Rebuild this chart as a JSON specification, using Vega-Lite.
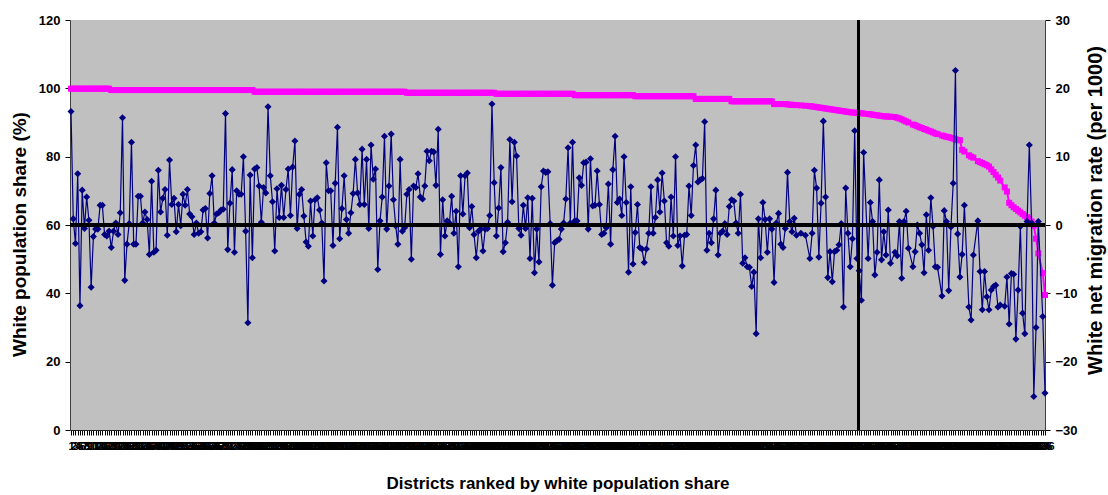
{
"$schema":"https://vega.github.io/schema/vega-lite/v6.json",
"width":975,"height":410,
"autosize":"none",
"padding":{"left":70,"top":20,"right":63,"bottom":65},
"background":"white",
"config":{"view":{"fill":"#C0C0C0","stroke":null},"font":"Liberation Sans"},
"data":{"values":[
{"rank":1,"share":99.9,"rate":16.6},{"rank":2,"share":99.9,"rate":0.9},{"rank":3,"share":99.9,"rate":-2.7},{"rank":4,"share":99.9,"rate":7.5},{"rank":5,"share":99.9,"rate":-11.8},{"rank":6,"share":99.9,"rate":5.1},{"rank":7,"share":99.9,"rate":-0.5},{"rank":8,"share":99.9,"rate":4.1},{"rank":9,"share":99.9,"rate":0.7},{"rank":10,"share":99.9,"rate":-9.1},{"rank":11,"share":99.9,"rate":-1.7},{"rank":12,"share":99.9,"rate":-0.6},{"rank":13,"share":99.9,"rate":-0.6},{"rank":14,"share":99.9,"rate":2.9},{"rank":15,"share":99.9,"rate":2.9},{"rank":16,"share":99.9,"rate":-1.4},{"rank":17,"share":99.9,"rate":-1.6},{"rank":18,"share":99.9,"rate":-0.9},
{"rank":19,"share":99.5,"rate":-3.3},{"rank":20,"share":99.5,"rate":-0.9},{"rank":21,"share":99.5,"rate":0.3},{"rank":22,"share":99.5,"rate":-1.4},{"rank":23,"share":99.5,"rate":1.8},{"rank":24,"share":99.5,"rate":15.7},{"rank":25,"share":99.5,"rate":-8.1},{"rank":26,"share":99.5,"rate":-2.8},{"rank":27,"share":99.5,"rate":0.2},{"rank":28,"share":99.5,"rate":12.1},{"rank":29,"share":99.5,"rate":-2.8},{"rank":30,"share":99.5,"rate":-2.8},{"rank":31,"share":99.5,"rate":4.2},{"rank":32,"share":99.5,"rate":4.2},{"rank":33,"share":99.5,"rate":0.3},{"rank":34,"share":99.5,"rate":1.9},{"rank":35,"share":99.5,"rate":0.8},{"rank":36,"share":99.5,"rate":-4.3},{"rank":37,"share":99.5,"rate":6.4},{"rank":38,"share":99.5,"rate":-4.0},{"rank":39,"share":99.5,"rate":-3.7},{"rank":40,"share":99.5,"rate":8.0},{"rank":41,"share":99.5,"rate":1.9},{"rank":42,"share":99.5,"rate":3.9},{"rank":43,"share":99.5,"rate":5.2},{"rank":44,"share":99.5,"rate":-1.5},{"rank":45,"share":99.5,"rate":9.5},{"rank":46,"share":99.5,"rate":3.0},{"rank":47,"share":99.5,"rate":3.9},{"rank":48,"share":99.5,"rate":-1.0},{"rank":49,"share":99.5,"rate":3.0},{"rank":50,"share":99.5,"rate":-0.1},{"rank":51,"share":99.5,"rate":4.5},
{"rank":52,"share":99.5,"rate":2.9},{"rank":53,"share":99.5,"rate":5.2},{"rank":54,"share":99.5,"rate":1.6},{"rank":55,"share":99.5,"rate":1.2},{"rank":56,"share":99.5,"rate":-1.4},{"rank":57,"share":99.5,"rate":0.3},{"rank":58,"share":99.5,"rate":-1.2},{"rank":59,"share":99.5,"rate":-1.0},{"rank":60,"share":99.5,"rate":2.2},{"rank":61,"share":99.5,"rate":2.4},{"rank":62,"share":99.5,"rate":-1.9},{"rank":63,"share":99.5,"rate":4.6},{"rank":64,"share":99.5,"rate":7.2},{"rank":65,"share":99.5,"rate":0.3},{"rank":66,"share":99.5,"rate":1.6},{"rank":67,"share":99.5,"rate":1.8},{"rank":68,"share":99.5,"rate":2.2},{"rank":69,"share":99.5,"rate":2.3},{"rank":70,"share":99.5,"rate":16.3},{"rank":71,"share":99.5,"rate":-3.6},{"rank":72,"share":99.5,"rate":3.2},{"rank":73,"share":99.5,"rate":8.1},{"rank":74,"share":99.5,"rate":-4.0},{"rank":75,"share":99.5,"rate":5.0},{"rank":76,"share":99.5,"rate":4.5},{"rank":77,"share":99.5,"rate":4.5},{"rank":78,"share":99.5,"rate":10.0},{"rank":79,"share":99.5,"rate":-0.9},{"rank":80,"share":99.5,"rate":-14.3},{"rank":81,"share":99.5,"rate":7.3},{"rank":82,"share":99.5,"rate":-4.8},
{"rank":83,"share":99.0,"rate":8.2},{"rank":84,"share":99.0,"rate":8.4},{"rank":85,"share":99.0,"rate":5.7},{"rank":86,"share":99.0,"rate":0.4},{"rank":87,"share":99.0,"rate":5.5},{"rank":88,"share":99.0,"rate":4.7},{"rank":89,"share":99.0,"rate":17.3},{"rank":90,"share":99.0,"rate":7.2},{"rank":91,"share":99.0,"rate":3.4},{"rank":92,"share":99.0,"rate":-3.8},{"rank":93,"share":99.0,"rate":5.3},{"rank":94,"share":99.0,"rate":1.1},{"rank":95,"share":99.0,"rate":5.8},{"rank":96,"share":99.0,"rate":1.1},{"rank":97,"share":99.0,"rate":5.2},{"rank":98,"share":99.0,"rate":8.2},{"rank":99,"share":99.0,"rate":1.4},{"rank":100,"share":99.0,"rate":8.5},{"rank":101,"share":99.0,"rate":12.3},{"rank":102,"share":99.0,"rate":-0.5},{"rank":103,"share":99.0,"rate":4.5},{"rank":104,"share":99.0,"rate":5.2},{"rank":105,"share":99.0,"rate":1.3},
{"rank":106,"share":99.0,"rate":-2.5},{"rank":107,"share":99.0,"rate":-3.1},{"rank":108,"share":99.0,"rate":3.5},{"rank":109,"share":99.0,"rate":-1.6},{"rank":110,"share":99.0,"rate":3.7},{"rank":111,"share":99.0,"rate":4.0},{"rank":112,"share":99.0,"rate":2.2},{"rank":113,"share":99.0,"rate":0.3},{"rank":114,"share":99.0,"rate":-8.2},{"rank":115,"share":99.0,"rate":9.1},{"rank":116,"share":99.0,"rate":5.0},{"rank":117,"share":99.0,"rate":5.0},{"rank":118,"share":99.0,"rate":-3.0},{"rank":119,"share":99.0,"rate":6.1},{"rank":120,"share":99.0,"rate":14.3},{"rank":121,"share":99.0,"rate":-2.0},{"rank":122,"share":99.0,"rate":2.4},{"rank":123,"share":99.0,"rate":7.2},{"rank":124,"share":99.0,"rate":0.8},{"rank":125,"share":99.0,"rate":-1.2},{"rank":126,"share":99.0,"rate":1.8},{"rank":127,"share":99.0,"rate":4.6},{"rank":128,"share":99.0,"rate":9.6},{"rank":129,"share":99.0,"rate":4.7},{"rank":130,"share":99.0,"rate":3.0},{"rank":131,"share":99.0,"rate":11.1},{"rank":132,"share":99.0,"rate":3.0},{"rank":133,"share":99.0,"rate":9.6},{"rank":134,"share":99.0,"rate":-0.5},{"rank":135,"share":99.0,"rate":11.7},{"rank":136,"share":99.0,"rate":6.7},{"rank":137,"share":99.0,"rate":8.2},{"rank":138,"share":99.0,"rate":-6.5},{"rank":139,"share":99.0,"rate":0.6},{"rank":140,"share":99.0,"rate":4.1},{"rank":141,"share":99.0,"rate":13.0},{"rank":142,"share":99.0,"rate":-0.6},{"rank":143,"share":99.0,"rate":5.7},{"rank":144,"share":99.0,"rate":13.3},{"rank":145,"share":99.0,"rate":3.7},{"rank":146,"share":99.0,"rate":-0.1},{"rank":147,"share":99.0,"rate":-2.8},{"rank":148,"share":99.0,"rate":9.6},{"rank":149,"share":99.0,"rate":-0.9},{"rank":150,"share":99.0,"rate":-0.4},
{"rank":151,"share":98.7,"rate":4.5},{"rank":152,"share":98.7,"rate":5.2},{"rank":153,"share":98.7,"rate":-5.0},{"rank":154,"share":98.7,"rate":5.7},{"rank":155,"share":98.7,"rate":5.5},{"rank":156,"share":98.7,"rate":7.5},{"rank":157,"share":98.7,"rate":4.1},
{"rank":158,"share":98.7,"rate":3.8},{"rank":159,"share":98.7,"rate":5.7},{"rank":160,"share":98.7,"rate":10.8},{"rank":161,"share":98.7,"rate":9.4},{"rank":162,"share":98.7,"rate":10.8},{"rank":163,"share":98.7,"rate":10.7},{"rank":164,"share":98.7,"rate":5.8},{"rank":165,"share":98.7,"rate":14.0},{"rank":166,"share":98.7,"rate":-4.3},{"rank":167,"share":98.7,"rate":3.7},{"rank":168,"share":98.7,"rate":-1.6},{"rank":169,"share":98.7,"rate":0.6},{"rank":170,"share":98.7,"rate":0.3},{"rank":171,"share":98.7,"rate":4.2},{"rank":172,"share":98.7,"rate":-1.2},{"rank":173,"share":98.7,"rate":2.0},{"rank":174,"share":98.7,"rate":-6.1},{"rank":175,"share":98.7,"rate":7.2},{"rank":176,"share":98.7,"rate":1.6},{"rank":177,"share":98.7,"rate":7.2},{"rank":178,"share":98.7,"rate":7.6},{"rank":179,"share":98.7,"rate":-0.4},{"rank":180,"share":98.7,"rate":2.7},{"rank":181,"share":98.7,"rate":-1.4},{"rank":182,"share":98.7,"rate":-4.8},{"rank":183,"share":98.7,"rate":-0.9},{"rank":184,"share":98.7,"rate":-0.6},{"rank":185,"share":98.7,"rate":-3.8},{"rank":186,"share":98.7,"rate":-0.6},{"rank":187,"share":98.7,"rate":-0.5},{"rank":188,"share":98.7,"rate":1.4},{"rank":189,"share":98.7,"rate":17.7},{"rank":190,"share":98.7,"rate":6.2},
{"rank":191,"share":98.4,"rate":-1.6},{"rank":192,"share":98.4,"rate":2.5},{"rank":193,"share":98.4,"rate":8.4},{"rank":194,"share":98.4,"rate":-3.9},{"rank":195,"share":98.4,"rate":-2.6},{"rank":196,"share":98.4,"rate":0.4},{"rank":197,"share":98.4,"rate":12.5},{"rank":198,"share":98.4,"rate":3.4},{"rank":199,"share":98.4,"rate":12.1},{"rank":200,"share":98.4,"rate":10.1},{"rank":201,"share":98.4,"rate":-0.5},{"rank":202,"share":98.4,"rate":-1.5},{"rank":203,"share":98.4,"rate":2.9},{"rank":204,"share":98.4,"rate":-0.5},{"rank":205,"share":98.4,"rate":4.0},{"rank":206,"share":98.4,"rate":-4.9},{"rank":207,"share":98.4,"rate":3.9},{"rank":208,"share":98.4,"rate":-7.0},{"rank":209,"share":98.4,"rate":-0.6},{"rank":210,"share":98.4,"rate":-5.4},{"rank":211,"share":98.4,"rate":5.6},
{"rank":212,"share":98.4,"rate":7.9},{"rank":213,"share":98.4,"rate":7.7},{"rank":214,"share":98.4,"rate":7.8},{"rank":215,"share":98.4,"rate":0.2},{"rank":216,"share":98.4,"rate":-8.8},{"rank":217,"share":98.4,"rate":-2.6},{"rank":218,"share":98.4,"rate":-2.3},{"rank":219,"share":98.4,"rate":-2.1},{"rank":220,"share":98.4,"rate":-0.6},{"rank":221,"share":98.4,"rate":0.3},{"rank":222,"share":98.4,"rate":3.8},{"rank":223,"share":98.4,"rate":11.3},{"rank":224,"share":98.4,"rate":0.3},{"rank":225,"share":98.4,"rate":12.1},
{"rank":226,"share":98.0,"rate":0.6},{"rank":227,"share":98.0,"rate":0.6},{"rank":228,"share":98.0,"rate":6.9},{"rank":229,"share":98.0,"rate":5.8},{"rank":230,"share":98.0,"rate":9.1},{"rank":231,"share":98.0,"rate":9.2},{"rank":232,"share":98.0,"rate":-0.6},{"rank":233,"share":98.0,"rate":9.7},{"rank":234,"share":98.0,"rate":2.8},{"rank":235,"share":98.0,"rate":2.9},{"rank":236,"share":98.0,"rate":7.9},{"rank":237,"share":98.0,"rate":3.0},{"rank":238,"share":98.0,"rate":-1.4},{"rank":239,"share":98.0,"rate":-1.2},{"rank":240,"share":98.0,"rate":-0.4},{"rank":241,"share":98.0,"rate":6.0},{"rank":242,"share":98.0,"rate":-2.8},{"rank":243,"share":98.0,"rate":8.1},{"rank":244,"share":98.0,"rate":13.0},{"rank":245,"share":98.0,"rate":3.3},{"rank":246,"share":98.0,"rate":3.8},{"rank":247,"share":98.0,"rate":1.4},{"rank":248,"share":98.0,"rate":10.0},{"rank":249,"share":98.0,"rate":3.3},{"rank":250,"share":98.0,"rate":-6.9},{"rank":251,"share":98.0,"rate":5.6},{"rank":252,"share":98.0,"rate":-5.7},
{"rank":253,"share":97.7,"rate":-1.1},{"rank":254,"share":97.7,"rate":3.0},{"rank":255,"share":97.7,"rate":-3.3},{"rank":256,"share":97.7,"rate":-3.5},{"rank":257,"share":97.7,"rate":-5.5},{"rank":258,"share":97.7,"rate":-3.5},{"rank":259,"share":97.7,"rate":-1.2},{"rank":260,"share":97.7,"rate":5.6},{"rank":261,"share":97.7,"rate":-1.2},{"rank":262,"share":97.7,"rate":1.1},{"rank":263,"share":97.7,"rate":6.6},{"rank":264,"share":97.7,"rate":1.9},{"rank":265,"share":97.7,"rate":7.6},{"rank":266,"share":97.7,"rate":3.5},
{"rank":267,"share":97.7,"rate":-2.6},{"rank":268,"share":97.7,"rate":-3.1},{"rank":269,"share":97.7,"rate":4.1},{"rank":270,"share":97.7,"rate":-1.6},{"rank":271,"share":97.7,"rate":10.0},{"rank":272,"share":97.7,"rate":-3.0},{"rank":273,"share":97.7,"rate":-1.6},{"rank":274,"share":97.7,"rate":-6.0},{"rank":275,"share":97.7,"rate":-1.5},{"rank":276,"share":97.7,"rate":-1.4},{"rank":277,"share":97.7,"rate":5.7},{"rank":278,"share":97.7,"rate":1.4},{"rank":279,"share":97.7,"rate":8.7},
{"rank":280,"share":96.9,"rate":11.7},{"rank":281,"share":96.9,"rate":6.3},{"rank":282,"share":96.9,"rate":6.6},{"rank":283,"share":96.9,"rate":6.8},{"rank":284,"share":96.9,"rate":15.1},{"rank":285,"share":96.9,"rate":-3.7},{"rank":286,"share":96.9,"rate":-1.2},{"rank":287,"share":96.9,"rate":-2.6},{"rank":288,"share":96.9,"rate":0.9},{"rank":289,"share":96.9,"rate":5.1},{"rank":290,"share":96.9,"rate":-4.4},{"rank":291,"share":96.9,"rate":-1.2},{"rank":292,"share":96.9,"rate":-0.9},{"rank":293,"share":96.9,"rate":0.2},{"rank":294,"share":96.9,"rate":-1.4},{"rank":295,"share":96.9,"rate":2.7},
{"rank":296,"share":96.2,"rate":3.7},{"rank":297,"share":96.2,"rate":3.5},{"rank":298,"share":96.2,"rate":0.3},{"rank":299,"share":96.2,"rate":-1.2},{"rank":300,"share":96.2,"rate":4.5},{"rank":301,"share":96.2,"rate":-5.6},{"rank":302,"share":96.2,"rate":-4.8},{"rank":303,"share":96.2,"rate":-6.1},{"rank":304,"share":96.2,"rate":-6.2},{"rank":305,"share":96.2,"rate":-9.0},{"rank":306,"share":96.2,"rate":-6.9},{"rank":307,"share":96.2,"rate":-15.9},{"rank":308,"share":96.2,"rate":0.9},{"rank":309,"share":96.2,"rate":-4.8},{"rank":310,"share":96.2,"rate":3.3},{"rank":311,"share":96.2,"rate":0.8},{"rank":312,"share":96.2,"rate":-4.0},{"rank":313,"share":96.2,"rate":0.9},{"rank":314,"share":96.2,"rate":-0.6},
{"rank":315,"share":95.4,"rate":-8.4},{"rank":316,"share":95.4,"rate":0.3},{"rank":317,"share":95.4,"rate":1.7},{"rank":318,"share":95.4,"rate":-2.8},{"rank":319,"share":95.4,"rate":-3.3},{"rank":320,"share":95.4,"rate":-0.5},
{"rank":321,"share":95.3,"rate":7.7},{"rank":322,"share":95.2,"rate":0.5},{"rank":323,"share":95.2,"rate":-1.0},{"rank":324,"share":95.1,"rate":1.0},{"rank":325,"share":95.1,"rate":-1.5},
{"rank":327,"share":95.0,"rate":-1.2},{"rank":329,"share":94.9,"rate":-1.5},{"rank":331,"share":94.8,"rate":-4.9},{"rank":332,"share":94.7,"rate":-1.2},{"rank":333,"share":94.6,"rate":8.0},{"rank":334,"share":94.5,"rate":5.4},{"rank":335,"share":94.4,"rate":-4.7},{"rank":336,"share":94.3,"rate":3.2},{"rank":337,"share":94.2,"rate":15.2},{"rank":338,"share":94.1,"rate":4.1},{"rank":339,"share":94.0,"rate":-7.7},{"rank":340,"share":93.9,"rate":-3.9},{"rank":341,"share":93.8,"rate":-8.3},{"rank":342,"share":93.7,"rate":-3.9},{"rank":343,"share":93.6,"rate":-3.7},{"rank":344,"share":93.5,"rate":-2.9},{"rank":345,"share":93.4,"rate":0.2},{"rank":346,"share":93.3,"rate":-12.0},{"rank":347,"share":93.2,"rate":5.4},{"rank":348,"share":93.1,"rate":-1.2},{"rank":349,"share":93.0,"rate":-6.1},{"rank":350,"share":92.9,"rate":-2.0},{"rank":351,"share":92.9,"rate":13.8},{"rank":352,"share":92.8,"rate":-4.9},{"rank":353,"share":92.8,"rate":-6.7},{"rank":354,"share":92.7,"rate":-11.0},{"rank":355,"share":92.6,"rate":10.6},{"rank":357,"share":92.5,"rate":-4.9},{"rank":358,"share":92.4,"rate":3.3},{"rank":359,"share":92.3,"rate":0.5},{"rank":360,"share":92.2,"rate":-7.3},{"rank":361,"share":92.1,"rate":-4.0},{"rank":362,"share":92.0,"rate":6.6},{"rank":363,"share":91.9,"rate":-5.1},{"rank":364,"share":91.8,"rate":-1.0},{"rank":365,"share":91.8,"rate":-4.4},{"rank":366,"share":91.7,"rate":2.2},{"rank":367,"share":91.7,"rate":-5.6},{"rank":369,"share":91.6,"rate":-4.0},{"rank":370,"share":91.4,"rate":-4.5},{"rank":371,"share":91.2,"rate":0.5},{"rank":372,"share":90.9,"rate":-7.8},{"rank":373,"share":90.6,"rate":0.5},{"rank":374,"share":90.3,"rate":2.0},{"rank":375,"share":90.0,"rate":-3.4},{"rank":377,"share":89.4,"rate":-6.1},{"rank":378,"share":89.2,"rate":-3.9},{"rank":379,"share":88.9,"rate":0.0},{"rank":380,"share":88.6,"rate":-1.2},{"rank":381,"share":88.4,"rate":-2.9},{"rank":382,"share":88.1,"rate":-7.0},{"rank":383,"share":87.9,"rate":1.5},{"rank":384,"share":87.6,"rate":-3.7},{"rank":385,"share":87.4,"rate":4.0},{"rank":386,"share":87.1,"rate":-0.2},{"rank":387,"share":86.8,"rate":-6.1},{"rank":388,"share":86.6,"rate":-6.2},{"rank":390,"share":86.2,"rate":-10.4},{"rank":391,"share":86.0,"rate":2.1},{"rank":392,"share":85.8,"rate":0.5},{"rank":393,"share":85.7,"rate":-9.6},{"rank":394,"share":85.5,"rate":-0.3},{"rank":395,"share":85.3,"rate":6.1},{"rank":396,"share":85.1,"rate":22.6},{"rank":397,"share":84.9,"rate":-1.3},{"rank":398,"share":84.8,"rate":-7.6},{"rank":399,"share":82.0,"rate":-4.3},{"rank":400,"share":81.5,"rate":2.9},{"rank":402,"share":80.4,"rate":-12.0},{"rank":403,"share":80.0,"rate":-13.9},{"rank":404,"share":79.7,"rate":-4.4},{"rank":406,"share":78.7,"rate":0.6},{"rank":407,"share":78.4,"rate":-6.8},{"rank":408,"share":78.1,"rate":-12.4},{"rank":409,"share":77.8,"rate":-6.8},{"rank":410,"share":77.5,"rate":-10.5},{"rank":411,"share":77.1,"rate":-12.4},{"rank":412,"share":76.3,"rate":-9.5},{"rank":413,"share":75.5,"rate":-9.0},{"rank":414,"share":74.7,"rate":-8.8},{"rank":415,"share":73.9,"rate":-12.0},{"rank":416,"share":73.0,"rate":-11.7},{"rank":418,"share":71.0,"rate":-11.9},{"rank":419,"share":69.8,"rate":-7.6},{"rank":420,"share":66.5,"rate":-14.5},{"rank":421,"share":65.8,"rate":-7.1},{"rank":422,"share":65.2,"rate":-7.2},{"rank":423,"share":64.7,"rate":-16.7},{"rank":424,"share":64.2,"rate":-9.5},{"rank":425,"share":63.7,"rate":-0.2},{"rank":426,"share":63.2,"rate":-12.9},{"rank":427,"share":62.7,"rate":-15.9},{"rank":428,"share":62.3,"rate":0.5},{"rank":429,"share":61.9,"rate":11.7},{"rank":430,"share":61.0,"rate":0.3},{"rank":431,"share":59.8,"rate":-25.1},{"rank":432,"share":56.0,"rate":-15.0},{"rank":433,"share":51.7,"rate":0.5},{"rank":435,"share":45.9,"rate":-13.4},{"rank":436,"share":39.5,"rate":-24.6}
]},
"layer":[
{"layer":[
{"mark":{"type":"line","color":"#FF00FF","strokeWidth":2},
"encoding":{
"x":{"field":"rank","type":"quantitative","scale":{"domain":[0.55,436],"nice":false,"zero":false},
"axis":{"title":"Districts ranked by white population share","titleFontSize":17,"titleFontWeight":"bold","titleColor":"#000000","titlePadding":24,"tickCount":436,"labelOverlap":false,"labelFlush":false,"labelBound":false,"labelFontSize":11,"labelFontWeight":"bold","labelColor":"#000000","labelPadding":5,"labelAngle":0,"tickSize":5,"tickColor":"#000000","domainColor":"#202020","grid":false}},
"y":{"field":"share","type":"quantitative","scale":{"domain":[0,120],"nice":false,"zero":false},
"axis":{"orient":"left","values":[0,20,40,60,80,100,120],"title":"White population share (%)","titleFontSize":19,"titleFontWeight":"bold","titleColor":"#000000","titlePadding":9,"titleY":214,"labelFontSize":13,"labelFontWeight":"bold","labelColor":"#000000","labelPadding":5,"tickSize":5,"tickColor":"#000000","domainColor":"#404040","grid":false}}}},
{"mark":{"type":"square","color":"#FF00FF","size":36,"opacity":1},
"encoding":{"x":{"field":"rank","type":"quantitative"},"y":{"field":"share","type":"quantitative"}}}
]},
{"layer":[
{"mark":{"type":"line","color":"#000080","strokeWidth":1.2},
"encoding":{"x":{"field":"rank","type":"quantitative"},
"y":{"field":"rate","type":"quantitative","scale":{"domain":[-30,30],"nice":false,"zero":false},
"axis":{"orient":"right","values":[-30,-20,-10,0,10,20,30],"title":"White net migration rate (per 1000)","titleAngle":270,"titleFontSize":20,"titleFontWeight":"bold","titleColor":"#000000","titlePadding":28,"titleY":190,"labelFontSize":13,"labelFontWeight":"bold","labelColor":"#000000","labelPadding":5,"tickSize":5,"tickColor":"#000000","domainColor":"#404040","grid":false}}}},
{"mark":{"type":"point","shape":"diamond","filled":true,"color":"#000080","size":50,"opacity":1},
"encoding":{"x":{"field":"rank","type":"quantitative"},"y":{"field":"rate","type":"quantitative"}}},
{"mark":{"type":"rule","color":"#000000","strokeWidth":3.5},
"encoding":{"y":{"datum":0,"type":"quantitative"}}},
{"mark":{"type":"rule","color":"#000000","strokeWidth":2},
"encoding":{"x":{"datum":352.5,"type":"quantitative"}}}
]}
],
"resolve":{"scale":{"y":"independent"}}
}
